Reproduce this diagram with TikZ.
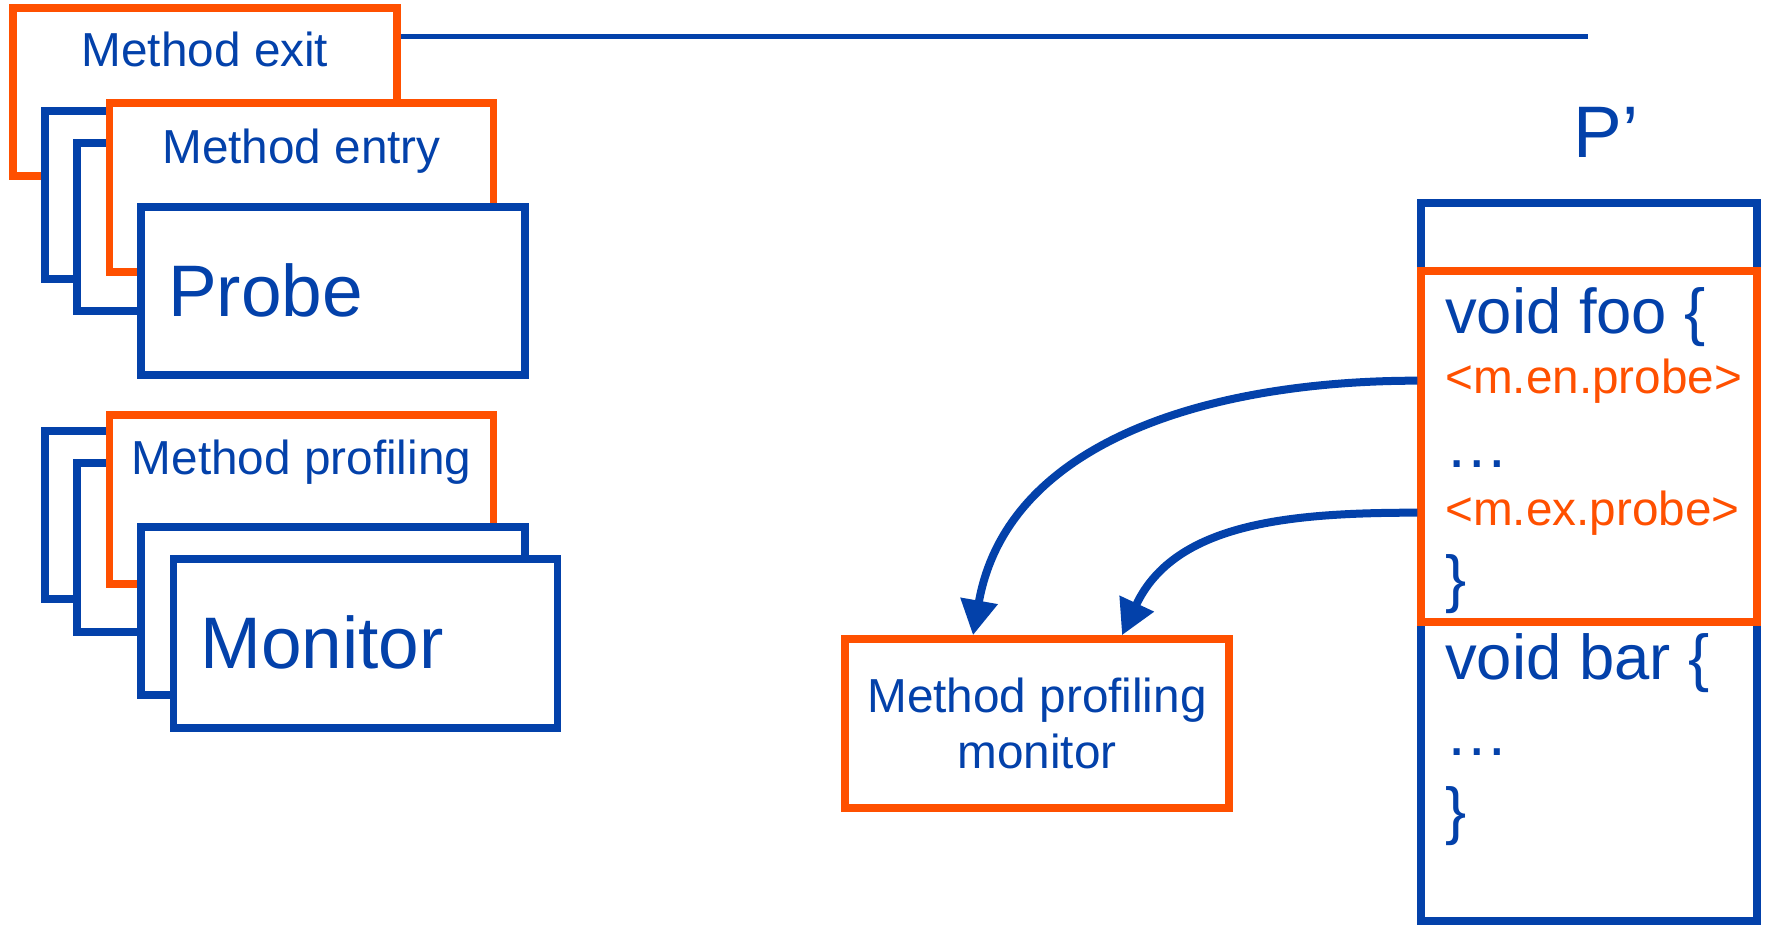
\documentclass[tikz,border=0pt]{standalone}
\usepackage{fontspec}
\setmainfont{Liberation Sans}
\usepackage{tikz}
\usetikzlibrary{arrows.meta}
\usepackage{xcolor}
\definecolor{ColBlue}{RGB}{3,65,170}
\definecolor{ColOrange}{RGB}{255,80,0}
\tikzstyle{BoxBlue}=[rectangle,draw=ColBlue,fill=white,line width=7.5pt,
minimum width=384pt,minimum height=168pt,inner sep=0pt]
\tikzstyle{BoxOrange}=[BoxBlue,draw=ColOrange]
\tikzstyle{LabelSmall}=[ColBlue,inner sep=0pt,font=\fontsize{47.7}{56}\selectfont]
\tikzstyle{LabelBig}=[ColBlue,inner sep=0pt,font=\fontsize{73}{80}\selectfont]
\tikzstyle{CodeLine}=[ColBlue,inner sep=0pt,anchor=base west,font=\fontsize{63.4}{70}\selectfont]
\tikzstyle{ProbeLine}=[CodeLine,ColOrange,font=\fontsize{47.7}{56}\selectfont]
\tikzstyle{EdgeCall}=[ColBlue,line width=8pt,-{Triangle[length=35pt,width=36pt]}]
\tikzstyle{EdgeRule}=[ColBlue,line width=5pt]

\begin{document}
\begin{tikzpicture}[x=1pt,y=1pt]
        \useasboundingbox(0,0)rectangle(1766,-927);
        % probe stack
        \node[BoxOrange](exitBox)at(205,-92){};
        \node[LabelSmall,anchor=base](exitLabel)at(205,-66){Method exit};
        \coordinate(ruleEnd)at(1588,-36);
        \draw[EdgeRule](exitBox.east|-ruleEnd)--(ruleEnd);
        \node[BoxBlue](probeBackA)at(237,-195){};
        \node[BoxBlue](probeBackB)at(269,-227){};
        \node[BoxOrange,minimum height=169pt](entryBox)at(301.5,-187.5){};
        \node[LabelSmall,anchor=base](entryLabel)at(301.5,-163){Method entry};
        \node[BoxBlue](probeBox)at(333,-291){};
        \node[LabelBig,anchor=base west](probeLabel)at(168,-316){Probe};
        % monitor stack
        \node[BoxBlue](monBackA)at(237,-515){};
        \node[BoxBlue,minimum height=169pt](monBackB)at(269,-547.5){};
        \node[BoxOrange,minimum height=169pt](profBox)at(301.5,-499.5){};
        \node[LabelSmall,anchor=base](profLabel)at(301.5,-474){Method profiling};
        \node[BoxBlue](monBackC)at(333,-611){};
        \node[BoxBlue,minimum height=169pt](monBox)at(365.5,-643.5){};
        \node[LabelBig,anchor=base west](monLabel)at(200,-668){Monitor};
        % instrumented program
        \node[LabelBig,anchor=base](progLabel)at(1606,-157){P’};
        \node[BoxBlue,minimum width=336pt,minimum height=718pt](progBox)at(1589,-562){};
        \node[BoxOrange,minimum width=336pt,minimum height=351pt](fooBox)at(1589,-446.5){};
        \node[CodeLine](fooHead)at(1445,-333){void foo \{};
        \node[ProbeLine](enProbe)at(1445,-393){<m.en.probe>};
        \node[CodeLine](fooBody)at(1445,-467){…};
        \node[ProbeLine](exProbe)at(1445,-525){<m.ex.probe>};
        \node[CodeLine](fooEnd)at(1445,-600){\}};
        \node[CodeLine](barHead)at(1445,-679){void bar \{};
        \node[CodeLine](barBody)at(1445,-755){…};
        \node[CodeLine](barEnd)at(1445,-832){\}};
        % profiling monitor
        \node[BoxOrange,text=ColBlue,align=center,font=\fontsize{47.7}{56}\selectfont,
        minimum height=169pt](pmBox)at(1037,-723.5){Method profiling\\monitor};
        \draw[EdgeCall](fooBox.west|-enProbe)to[out=180,in=80]([xshift=-64pt]pmBox.north);
        \draw[EdgeCall](fooBox.west|-exProbe)to[out=180,in=65]([xshift=85pt]pmBox.north);
    \end{tikzpicture}
\end{document}
